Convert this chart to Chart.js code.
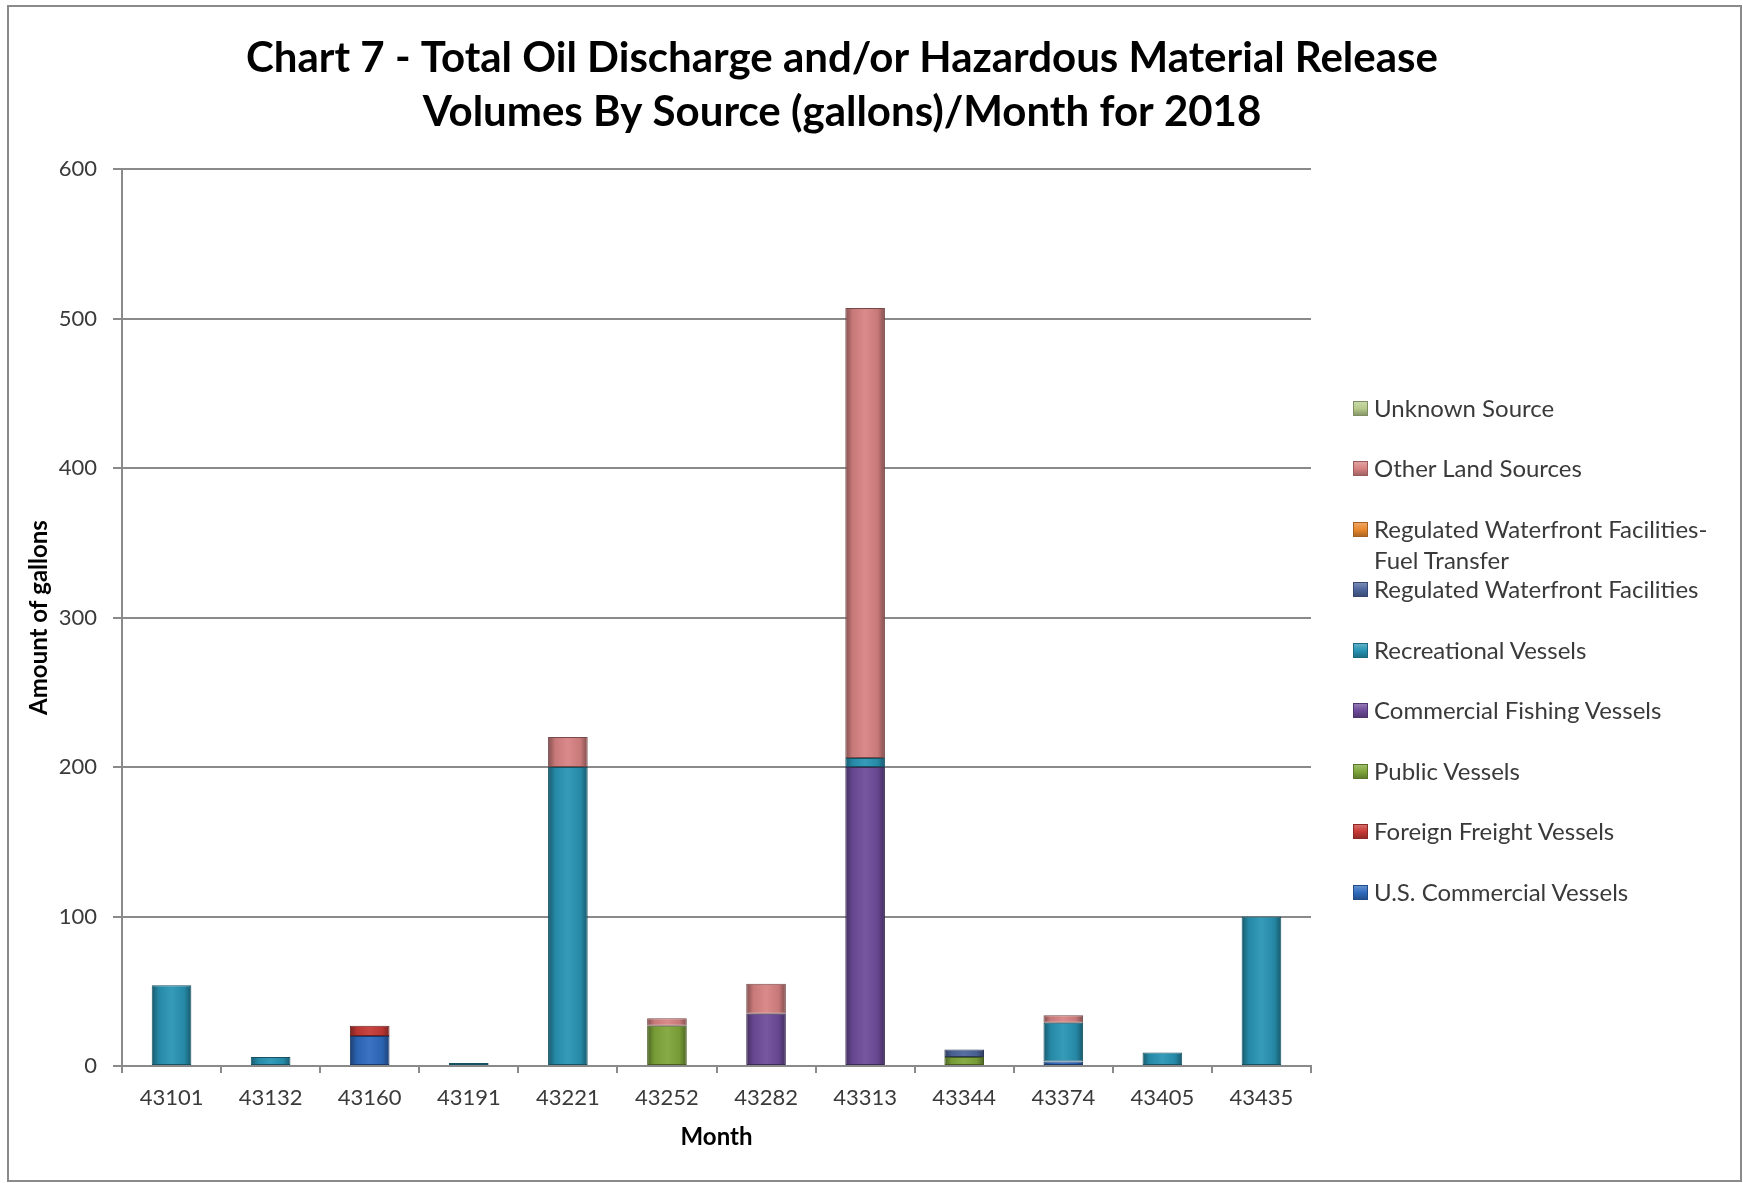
<!DOCTYPE html>
<html>
<head>
<meta charset="utf-8">
<title>Chart 7 - Oil Discharge by Source 2018</title>
<script src="https://cdn.jsdelivr.net/npm/chart.js@4.4.0/dist/chart.umd.min.js"></script>
<style>
    html, body { margin: 0; padding: 0; background: #fff; }
    #wrap { position: relative; width: 1743px; height: 1183px; overflow: hidden; }
    #frame { position: absolute; left: 7px; top: 5px; width: 1731px; height: 1173px; border: 2px solid #8a8a8a; }
    #chart { position: absolute; left: 0; top: 0; }
    #legend { position: absolute; left: 1353px; top: 0; font-family: Lato, sans-serif; font-size: 24px; color: #3a3a3a; }
    .lg-item { position: absolute; left: 0; white-space: nowrap; line-height: 31px; }
    .lg-box { position: absolute; left: 0; top: 9px; width: 13px; height: 13px; }
    .lg-text { position: absolute; left: 21px; top: 0; }
</style>
</head>
<body>
<div id="wrap">
    <div id="frame"></div>
    <canvas id="chart" width="1684" height="1183"></canvas>
    <div id="legend"></div>
</div>
<script>
// Month serials as shown on the x axis
const months = ['43101', '43132', '43160', '43191', '43221', '43252', '43282', '43313', '43344', '43374', '43405', '43435'];

// Gallons per source
const usCommercial      = [0, 0, 20, 0, 0, 0, 0, 0, 0, 3, 0, 0];
const foreignFreight    = [0, 0, 7, 0, 0, 0, 0, 0, 0, 0, 0, 0];
const publicVessels     = [0, 0, 0, 0, 0, 27, 0, 0, 6, 0, 0, 0];
const commercialFishing = [0, 0, 0, 0, 0, 0, 35, 200, 0, 0, 0, 0];
const recreational      = [54, 6, 0, 2, 200, 0, 0, 6, 0, 26, 9, 100];
const regulatedWF       = [0, 0, 0, 0, 0, 0, 0, 0, 5, 0, 0, 0];
const regulatedWFFuel   = [0, 0, 0, 0, 0, 0, 0, 0, 0, 0, 0, 0];
const otherLand         = [0, 0, 0, 0, 20, 5, 20, 301, 0, 5, 0, 0];
const unknownSource     = [0, 0, 0, 0, 0, 0, 0, 0, 0, 0, 0, 0];

const yTicks = [0, 100, 200, 300, 400, 500, 600];

const series = [
    { label: 'U.S. Commercial Vessels', data: usCommercial, color: '#2F6BBF' },
    { label: 'Foreign Freight Vessels', data: foreignFreight, color: '#C83A36' },
    { label: 'Public Vessels', data: publicVessels, color: '#7FA73B' },
    { label: 'Commercial Fishing Vessels', data: commercialFishing, color: '#6F4C9B' },
    { label: 'Recreational Vessels', data: recreational, color: '#2895B4' },
    { label: 'Regulated Waterfront Facilities', data: regulatedWF, color: '#4E669C' },
    { label: 'Regulated Waterfront Facilities-\nFuel Transfer', data: regulatedWFFuel, color: '#E98A2F' },
    { label: 'Other Land Sources', data: otherLand, color: '#D88282' },
    { label: 'Unknown Source', data: unknownSource, color: '#B6CB8C' },
];

const BAR_PCT = 0.4;
const FONT = 'Lato';

function shade(hex, f) {
    const n = parseInt(hex.slice(1), 16);
    let r = (n >> 16) & 255, g = (n >> 8) & 255, b = n & 255;
    if (f < 0) { r *= 1 + f; g *= 1 + f; b *= 1 + f; }
    else { r += (255 - r) * f; g += (255 - g) * f; b += (255 - b) * f; }
    return `rgb(${Math.round(r)},${Math.round(g)},${Math.round(b)})`;
}

// horizontal gradient so the bars look a bit like the Excel ones
function barFill(base) {
    return (ctx) => {
        const chart = ctx.chart;
        const x = chart.scales.x;
        if (!x || !chart.chartArea || ctx.dataIndex === undefined) return base;
        const cx = x.getPixelForValue(ctx.dataIndex);
        const half = (x.width / months.length) * BAR_PCT / 2;
        const g = chart.ctx.createLinearGradient(cx - half, 0, cx + half, 0);
        g.addColorStop(0, shade(base, -0.4));
        g.addColorStop(0.18, shade(base, -0.08));
        g.addColorStop(0.5, shade(base, 0.06));
        g.addColorStop(0.82, shade(base, -0.08));
        g.addColorStop(1, shade(base, -0.4));
        return g;
    };
}

const htmlLegend = {
    id: 'htmlLegend',
    afterUpdate(chart) {
        const box = document.getElementById('legend');
        box.innerHTML = '';
        const items = chart.data.datasets.slice().reverse();
        items.forEach((ds, i) => {
            const centre = 407 + i * 60.5;
            const row = document.createElement('div');
            row.className = 'lg-item';
            row.style.top = (centre - 15.5) + 'px';
            const sw = document.createElement('span');
            sw.className = 'lg-box';
            sw.style.background = `linear-gradient(${shade(ds.baseColor, 0.25)}, ${ds.baseColor} 50%, ${shade(ds.baseColor, -0.25)})`;
            sw.style.border = `1px solid ${shade(ds.baseColor, -0.3)}`;
            const tx = document.createElement('span');
            tx.className = 'lg-text';
            tx.innerHTML = ds.label.split('\n').join('<br>');
            row.appendChild(sw);
            row.appendChild(tx);
            box.appendChild(row);
        });
    }
};

const gridGrey = '#8a8a8a';

new Chart(document.getElementById('chart').getContext('2d'), {
    type: 'bar',
    data: {
        labels: months,
        datasets: series.map(s => ({
            label: s.label,
            data: s.data,
            baseColor: s.color,
            backgroundColor: barFill(s.color),
            borderColor: shade(s.color, -0.45),
            borderWidth: (ctx) => (ctx.raw ? 1 : 0),
            borderSkipped: false,
            barPercentage: BAR_PCT,
            categoryPercentage: 1,
        }))
    },
    options: {
        responsive: false,
        animation: false,
        events: [],
        layout: { padding: 0 },
        plugins: {
            legend: { display: false },
            tooltip: { enabled: false },
            title: {
                display: true,
                text: ['Chart 7 - Total Oil Discharge and/or Hazardous Material Release', 'Volumes By Source (gallons)/Month for 2018'],
                color: '#000',
                font: { family: FONT, size: 42, weight: 'bold', lineHeight: 1.286 },
                padding: { top: 31, bottom: 30 }
            }
        },
        scales: {
            x: {
                stacked: true,
                grid: { offset: true, drawOnChartArea: false, drawTicks: true, tickLength: 7, color: gridGrey, lineWidth: 2 },
                border: { color: gridGrey, width: 2 },
                ticks: { color: '#3a3a3a', font: { family: FONT, size: 22 }, padding: 12, maxRotation: 0, autoSkip: false },
                title: { display: true, text: 'Month', color: '#000', font: { family: FONT, size: 24, weight: 'bold' }, padding: { top: 0, bottom: 31 } },
                afterFit(s) { s.height = 117; }
            },
            y: {
                stacked: true,
                min: 0,
                max: 600,
                afterBuildTicks(s) { s.ticks = yTicks.map(v => ({ value: v })); },
                grid: { color: gridGrey, lineWidth: 2, tickLength: 9 },
                border: { color: gridGrey, width: 2 },
                ticks: { color: '#3a3a3a', font: { family: FONT, size: 22 }, padding: 16 },
                title: { display: true, text: 'Amount of gallons', color: '#000', font: { family: FONT, size: 24, weight: 'bold' }, padding: { top: 25, bottom: 0 } },
                afterFit(s) { s.width = 122; }
            },
            // empty right-hand band, keeps the plot clear of the legend
            y2: {
                type: 'linear',
                axis: 'y',
                position: 'right',
                display: true,
                grid: { display: false },
                border: { display: false },
                ticks: { display: false },
                afterFit(s) { s.width = 1684 - 1311; }
            }
        }
    },
    plugins: [htmlLegend]
});
</script>
</body>
</html>
